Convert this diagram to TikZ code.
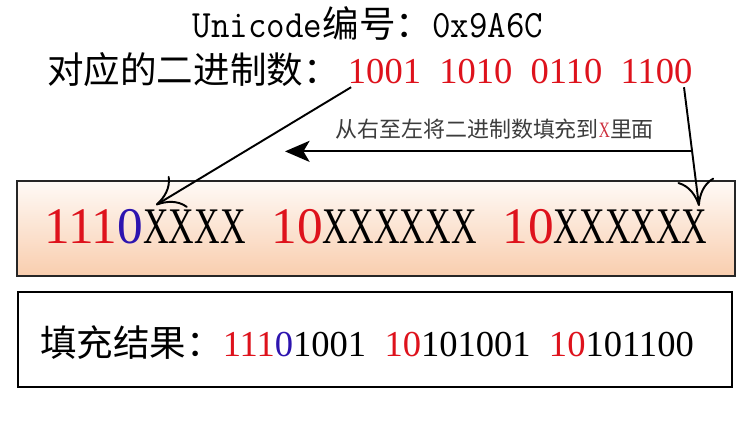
\documentclass[tikz,border=0pt]{standalone}
\usepackage{fontspec}
\setmainfont{Liberation Serif}
\newfontfamily\cjk{Noto Sans CJK SC}
\usepackage{graphicx}
\usepackage{tikz}
\usetikzlibrary{arrows.meta, positioning}

\definecolor{bitred}{RGB}{222,18,28}
\definecolor{bitblue}{RGB}{45,20,175}
\definecolor{hintred}{RGB}{205,45,60}
\definecolor{peach}{RGB}{248,200,165}
\definecolor{hintgray}{RGB}{60,60,60}

\newcommand{\gap}{\hspace{0.5em}}
\newcommand{\nx}{\makebox[0.5em]{\scalebox{0.69}[1]{X}}}
\newcommand{\mono}[1]{\scalebox{0.93}[1]{\fontsize{22pt}{24pt}\selectfont\ttfamily #1}}

\begin{document}
\begin{tikzpicture}[
        x=0.02cm, y=-0.02cm,
        >=Stealth,
        heading/.style={
            inner sep=0pt,
            font=\fontsize{20.8pt}{24pt}\selectfont
        },
        hint/.style={
            inner sep=0pt,
            text=hintgray,
            font=\fontsize{12.5pt}{14pt}\selectfont\cjk
        },
        tmplbox/.style={
            draw=black!85,
            line width=1.4pt,
            top color=peach!10,
            bottom color=peach!90,
            minimum width=14.36cm,
            minimum height=1.9cm,
            inner sep=0pt,
            text height=17.5pt,
            text depth=0pt,
            font=\fontsize{29.2pt}{32pt}\selectfont
        },
        resultbox/.style={
            draw=black,
            line width=1.4pt,
            fill=white,
            minimum height=1.9cm,
            inner xsep=0.44cm,
            inner ysep=0pt,
            text width=13.4cm,
            align=left,
            text height=21.5pt,
            text depth=1.6pt,
            font=\fontsize{20.8pt}{24pt}\selectfont
        },
        pointer/.style={draw, line width=1.1pt, -{To[length=15pt,width=21pt]}},
        fill_arrow/.style={draw, line width=1.1pt, -{Stealth[length=14pt,width=12pt,inset=3.5pt]}}
    ]

    \useasboundingbox (0,0) rectangle (750,423);

    % Code point
    \node[heading, anchor=base] (code) at (368,37) {\mono{Unicode}{\cjk 编号：}\mono{0x9A6C}};

    % Binary digits
    \node[heading, anchor=base west] (binlabel) at (47,83) {\cjk 对应的二进制数：};
    \node[heading, base right=4.3pt of binlabel, text=bitred] (bits) {1001\gap1010\gap0110\gap1100};

    % UTF-8 template
    \node[tmplbox] (tmpl) at (376,228.5) {%
        \textcolor{bitred}{111}\textcolor{bitblue}{0}\nx\nx\nx\nx\gap
        \textcolor{bitred}{10}\nx\nx\nx\nx\nx\nx\gap
        \textcolor{bitred}{10}\nx\nx\nx\nx\nx\nx};

    % Result
    \node[resultbox] (result) at (375,339.5) {%
        {\cjk 填充结果：}\textcolor{bitred}{111}\textcolor{bitblue}{0}1001\gap
        \textcolor{bitred}{10}101001\gap
        \textcolor{bitred}{10}101100};

    % Pointers
    \coordinate (firstX) at (156,205);
    \coordinate (lastX) at (699,206);
    \coordinate (fillend) at (285,150);
    \draw[pointer] ([xshift=2pt,yshift=-2pt]bits.south west) -- (firstX);
    \draw[pointer] ([xshift=-5pt,yshift=-2pt]bits.south east) -- coordinate[pos=0.54] (fork) (lastX);
    \draw[fill_arrow] (fork) -- (fillend |- fork);

    \node[hint, anchor=base west] (hint) at (335,137) {从右至左将二进制数填充到{\color{hintred}\rmfamily\scalebox{0.7}[1]{X}}里面};

\end{tikzpicture}
\end{document}
